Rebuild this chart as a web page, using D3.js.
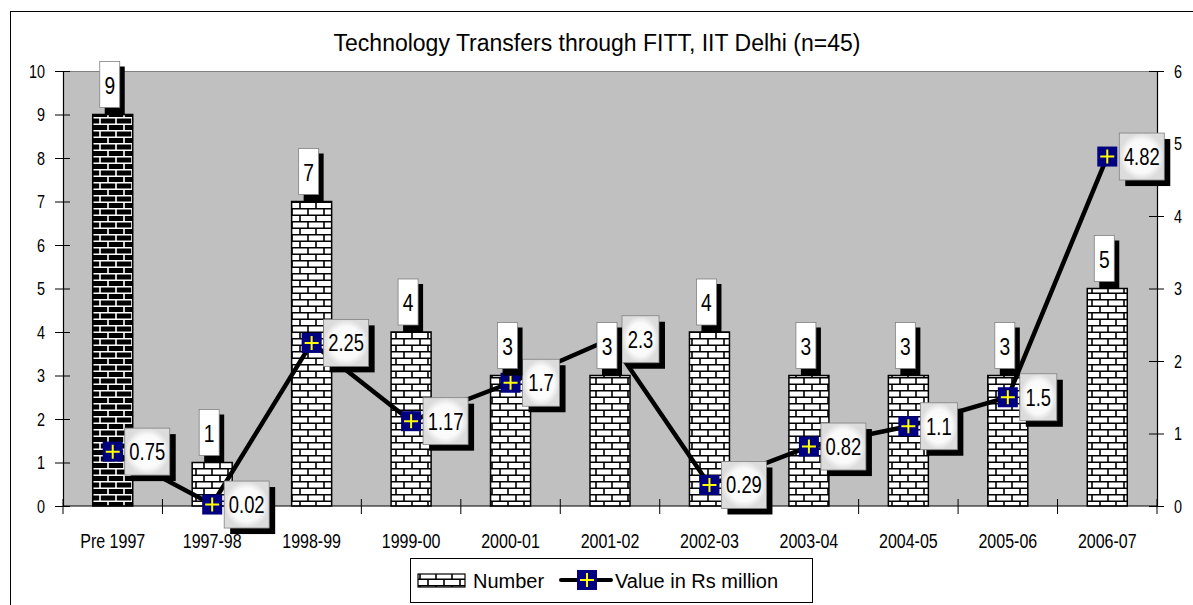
<!DOCTYPE html>
<html><head><meta charset="utf-8">
<script src="https://cdn.jsdelivr.net/npm/d3@7"></script>
<style>
body{margin:0;background:#fff;}
svg{display:block;}
</style></head>
<body><svg id="c" width="1193" height="605"></svg>
<script>
const categories = ["Pre 1997","1997-98","1998-99","1999-00","2000-01","2001-02","2002-03","2003-04","2004-05","2005-06","2006-07"];
const numberValues = [9,1,7,4,3,3,4,3,3,3,5];
const rsValues = [0.75,0.02,2.25,1.17,1.7,2.3,0.29,0.82,1.1,1.5,4.82];
const leftTicks = [0,1,2,3,4,5,6,7,8,9,10];
const rightTicks = [0,1,2,3,4,5,6];
const title = "Technology Transfers through FITT, IIT Delhi (n=45)";

const svg = d3.select("#c");
const L = 63, R = 1157, T = 71, B = 506;
const sans = '"Liberation Sans",Arial,sans-serif';
const SX = 0.8;

function ntext(g, x, y, str, size, anchor){
  return g.append("text").attr("transform",`translate(${x},${y}) scale(${SX},1)`)
    .attr("text-anchor",anchor||"middle").attr("font-family",sans).attr("font-size",size)
    .attr("fill","#000").text(str);
}

const defs = svg.append("defs");
function brick(id, bg, fg){
  const p = defs.append("pattern").attr("id",id).attr("patternUnits","userSpaceOnUse")
    .attr("width",16).attr("height",13);
  p.append("rect").attr("width",16).attr("height",13).attr("fill",bg);
  p.append("path").attr("d","M0,0.75H16M0,7.25H16M4,0V7M12,7V13")
    .attr("stroke",fg).attr("stroke-width",1.6).attr("fill","none");
  return p;
}
brick("bw","#fff","#000");
brick("bb","#000","#fff");
const rg = defs.append("radialGradient").attr("id","lg");
rg.append("stop").attr("offset","0%").attr("stop-color","#ffffff");
rg.append("stop").attr("offset","70%").attr("stop-color","#fafafa");
rg.append("stop").attr("offset","100%").attr("stop-color","#dcdcdc");

// outer frame
svg.append("rect").attr("x",10.5).attr("y",11.5).attr("width",1200).attr("height",620)
  .attr("fill","none").attr("stroke","#000").attr("stroke-width",1);

svg.append("text").attr("x",597).attr("y",51).attr("text-anchor","middle")
  .attr("font-family",sans).attr("font-size",23).text(title);

const x = d3.scaleBand().domain(categories).range([L,R]).paddingInner(0).paddingOuter(0);
const yL = d3.scaleLinear().domain([0,10]).range([B,T]);
const yR = d3.scaleLinear().domain([0,6]).range([B,T]);

svg.append("rect").attr("x",L).attr("y",T).attr("width",R-L).attr("height",B-T).attr("fill","#c0c0c0");
svg.append("line").attr("x1",L).attr("x2",R).attr("y1",T+0.5).attr("y2",T+0.5).attr("stroke","#808080");

const bw = 40;
svg.selectAll("rect.bar").data(numberValues).join("rect").attr("class","bar")
  .attr("x",(d,i)=>x(categories[i])+x.bandwidth()/2-bw/2)
  .attr("y",d=>yL(d)).attr("width",bw).attr("height",d=>yL(0)-yL(d))
  .attr("fill",(d,i)=>i===0?"url(#bb)":"url(#bw)").attr("stroke","#000").attr("stroke-width",1.5);

// axes
const gL = svg.append("g").attr("transform",`translate(${L},0)`)
  .call(d3.axisLeft(yL).tickValues(leftTicks).tickSize(8).tickFormat(""));
const gR = svg.append("g").attr("transform",`translate(${R},0)`)
  .call(d3.axisRight(yR).tickValues(rightTicks).tickSize(7).tickFormat(""));
gL.selectAll(".tick line").attr("x1",7);
gR.selectAll(".tick line").attr("x1",-8);
[gL,gR].forEach(g=>{
  g.select(".domain").attr("stroke","#000").attr("stroke-width",1.2);
  g.selectAll(".tick line").attr("stroke","#000");
});
leftTicks.forEach(t=>ntext(svg, 45, yL(t)+6.5, String(t), 18, "end"));
rightTicks.forEach(t=>ntext(svg, 1174, yR(t)+6.5, String(t), 18, "start"));

svg.append("line").attr("x1",L).attr("x2",R).attr("y1",B).attr("y2",B).attr("stroke","#000").attr("stroke-width",1.2);
svg.append("g").selectAll("line").data(d3.range(categories.length+1)).join("line")
  .attr("x1",i=>L+i*x.bandwidth()).attr("x2",i=>L+i*x.bandwidth())
  .attr("y1",B-7).attr("y2",B+8).attr("stroke","#000");
categories.forEach(c=>ntext(svg, x(c)+x.bandwidth()/2, 548, c, 20, "middle"));

// line
const cx = i=>x(categories[i])+x.bandwidth()/2;
svg.append("path").datum(rsValues)
  .attr("d",d3.line().x((d,i)=>cx(i)).y(d=>yR(d)))
  .attr("fill","none").attr("stroke","#000").attr("stroke-width",4.5);

function marker(g,px,py){
  g.append("rect").attr("x",px-10).attr("y",py-10).attr("width",20).attr("height",20).attr("fill","#000080");
  g.append("path").attr("d",`M${px-7},${py}H${px+7}M${px},${py-7}V${py+7}`).attr("stroke","#ffff00").attr("stroke-width",2);
}
const mg = svg.append("g");
rsValues.forEach((d,i)=>marker(mg,cx(i),yR(d)));

// value labels
const vg = svg.append("g");
rsValues.forEach((d,i)=>{
  const px=cx(i), py=yR(d);
  const txt = String(d);
  const w = txt.length<=3?37:45, h=47;
  const bx = px+12, by = py-h/2;
  vg.append("rect").attr("x",bx+6).attr("y",by+6).attr("width",w).attr("height",h).attr("fill","#000");
  vg.append("rect").attr("x",bx).attr("y",by).attr("width",w).attr("height",h).attr("fill","url(#lg)").attr("stroke","#808080").attr("stroke-width",0.8);
  ntext(vg, bx+w/2, py+8.5, txt, 23, "middle");
});

// number labels
const ng = svg.append("g");
numberValues.forEach((d,i)=>{
  const px=cx(i)-3, top=yL(d);
  const w=20, h=46, bx=px-w/2, by=top-h-7;
  ng.append("rect").attr("x",bx+5).attr("y",by+5).attr("width",w).attr("height",h+2).attr("fill","#000");
  ng.append("rect").attr("x",bx).attr("y",by).attr("width",w).attr("height",h).attr("fill","#fff").attr("stroke","#808080").attr("stroke-width",0.8);
  ntext(ng, px, by+h/2+9, String(d), 24, "middle");
});

// legend
const lg = svg.append("g");
lg.append("rect").attr("x",410.5).attr("y",558.5).attr("width",402).attr("height",44).attr("fill","#fff").attr("stroke","#000");
lg.append("rect").attr("x",418).attr("y",574).attr("width",47).attr("height",13).attr("fill","url(#bw)").attr("stroke","#000").attr("stroke-width",1.2);
lg.append("text").attr("x",473).attr("y",588).attr("font-family",sans).attr("font-size",20).text("Number");
lg.append("line").attr("x1",561).attr("x2",611).attr("y1",580).attr("y2",580).attr("stroke","#000").attr("stroke-width",4).attr("stroke-linecap","round");
marker(lg,587,580);
lg.append("text").attr("x",615).attr("y",588).attr("font-family",sans).attr("font-size",20).text("Value in Rs million");
</script></body></html>
